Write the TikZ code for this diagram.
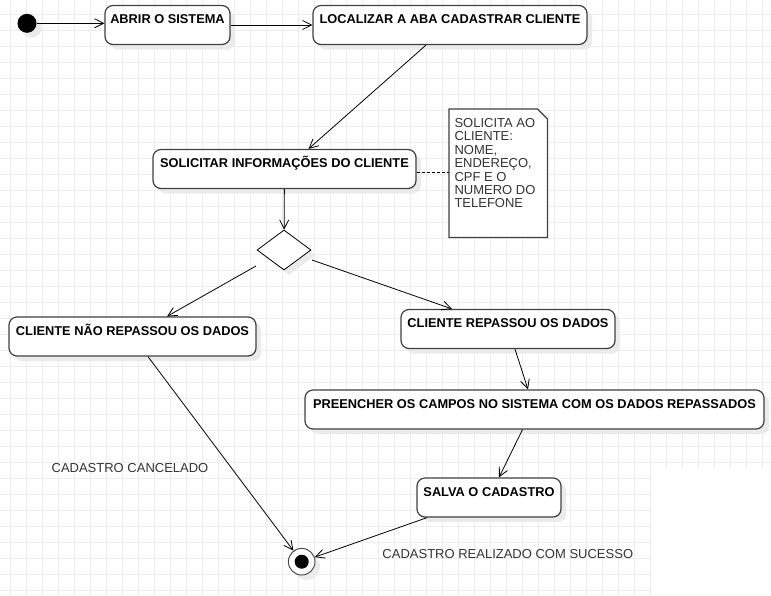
\documentclass[tikz,border=0pt]{standalone}
\usepackage{fontspec}
\setmainfont{Liberation Sans}
\usetikzlibrary{shapes.geometric,shadows,arrows.meta,calc}
\begin{document}
\begin{tikzpicture}[x=1pt,y=-1pt,
  act/.style={draw=black!75, line width=1.2pt, rounded corners=8pt, fill=white,
    font=\fontsize{12.8}{14}\selectfont\bfseries, inner xsep=2pt, inner ysep=3pt,
    text height=15pt, text depth=18pt, minimum height=39pt,
    drop shadow={shadow xshift=5pt, shadow yshift=-5pt, fill=black!8, opacity=1}},
  flow/.style={draw=black, line width=0.8pt, -{Straight Barb[length=9pt,width=9pt]}},
  gridline/.style={draw=black!7, line width=0.8pt},
  caption/.style={font=\fontsize{13}{15}\selectfont, text=black!80, inner sep=0pt},
  softshadow/.style={drop shadow={shadow xshift=5pt, shadow yshift=-5pt, fill=black!8, opacity=1}},
]
\useasboundingbox (0,0) rectangle (771,595);
\fill[white] (0,0) rectangle (771,595);

% background grid (leaves the lower right corner blank)
\foreach \k in {0,...,40} \draw[gridline] (10+16*\k,0) -- (10+16*\k,595);
\foreach \k in {41,...,47} \draw[gridline] (10+16*\k,0) -- (10+16*\k,467);
\foreach \k in {0,...,28} \draw[gridline] (0,14+16*\k) -- (771,14+16*\k);
\foreach \k in {29,...,36} \draw[gridline] (0,14+16*\k) -- (652,14+16*\k);

% initial and final states
\node[circle, fill=black, minimum size=19pt, inner sep=0pt, softshadow] (start) at (27,23.3) {};
\node[circle, draw=black!70, line width=1pt, fill=white, minimum size=26.6pt, inner sep=0pt, softshadow] (final) at (301.7,561.7) {};
\node[circle, fill=black, minimum size=14pt, inner sep=0pt] (finaldot) at (final) {};

% activities
\node[act, minimum width=125pt] (abrir) at (167.5,25) {ABRIR O SISTEMA};
\node[act, minimum width=274pt] (loc) at (450,25) {LOCALIZAR A ABA CADASTRAR CLIENTE};
\node[act, minimum width=263pt] (sol) at (284.5,169) {SOLICITAR INFORMAÇÕES DO CLIENTE};
\node[act, minimum width=247pt] (nao) at (132.5,336.5) {CLIENTE NÃO REPASSOU OS DADOS};
\node[act, minimum width=214pt] (rep) at (508,329) {CLIENTE REPASSOU OS DADOS};
\node[act, minimum width=459pt] (pre) at (534.5,409.5) {PREENCHER OS CAMPOS NO SISTEMA COM OS DADOS REPASSADOS};
\node[act, minimum width=144pt] (salva) at (489,497.5) {SALVA O CADASTRO};

% decision
\node[diamond, draw=black, line width=0.8pt, fill=white, minimum width=54pt, minimum height=40pt,
      inner sep=0pt, softshadow] (dec) at (284,250) {};

% note with folded corner
\node[minimum width=98pt, minimum height=128pt, anchor=north west, inner sep=0pt] (note) at (449,109) {};
\draw[draw=black!75, line width=1.2pt, fill=white]
  (note.north west) -- ([xshift=-10pt]note.north east) -- ([yshift=-10pt]note.north east)
  -- (note.south east) -- (note.south west) -- cycle;
\node[anchor=north west, align=left, font=\fontsize{13}{13.4}\selectfont, text=black!80, inner sep=0pt]
  (notetext) at (454.3,118.3) {SOLICITA AO\\CLIENTE:\\NOME,\\ENDEREÇO,\\CPF E O\\NUMERO DO\\TELEFONE};
\draw[black, line width=0.8pt, dash pattern=on 3pt off 2pt]
  ([yshift=-3pt]sol.east) -- ([yshift=-3pt]sol.east -| note.west);

% transitions
\draw[flow] (start) -- (start -| abrir.west);
\draw[flow] (abrir) -- (loc);
\draw[flow] ([xshift=-24pt]loc.south) -- ([xshift=24pt]sol.north);
\draw[flow] (sol) -- (dec);
\draw[flow] ([shift={(-28,16)}]dec.center) -- ([xshift=34.5pt]nao.north);
\draw[flow] ([shift={(28,10)}]dec.center) -- ([xshift=-56pt]rep.north);
\draw[flow] ([xshift=7pt]rep.south) -- ([xshift=-6.5pt]pre.north);
\draw[flow] ([xshift=-12pt]pre.south) -- ([xshift=10pt]salva.north);
\draw[flow] ([xshift=15.5pt]nao.south) -- (final);
\draw[flow] ([xshift=10.7pt]salva.south west) -- (final);

% outcome labels
\node[caption] (cancel) at (130,468.3) {CADASTRO CANCELADO};
\node[caption] (success) at (507.8,554.3) {CADASTRO REALIZADO COM SUCESSO};
\end{tikzpicture}
\end{document}
